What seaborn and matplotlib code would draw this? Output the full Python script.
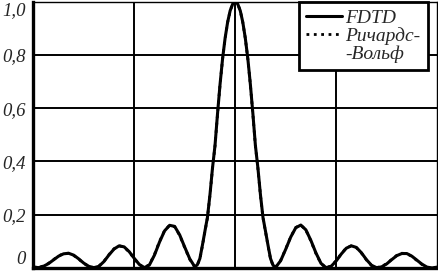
import numpy as np
import pandas as pd
import matplotlib
matplotlib.use('Agg')
import matplotlib.pyplot as plt
import seaborn as sns

# Sample positions (arbitrary units, focus at 0)
x_pos = [-2.0, -1.95, -1.9, -1.85, -1.8, -1.75, -1.7, -1.65, -1.6, -1.55,
         -1.5, -1.45, -1.4, -1.35, -1.3, -1.25, -1.2, -1.15, -1.1, -1.05,
         -1.0, -0.95, -0.9, -0.85, -0.8, -0.75, -0.7, -0.65, -0.6, -0.55,
         -0.5, -0.45, -0.4, -0.375, -0.35, -0.325, -0.3, -0.275, -0.25, -0.225,
         -0.2, -0.175, -0.15, -0.125, -0.1, -0.075, -0.05, -0.025, 0.0,
         0.025, 0.05, 0.075, 0.1, 0.125, 0.15, 0.175, 0.2, 0.225, 0.25,
         0.275, 0.3, 0.325, 0.35, 0.375, 0.4, 0.45, 0.5, 0.55, 0.6,
         0.65, 0.7, 0.75, 0.8, 0.85, 0.9, 0.95, 1.0, 1.05, 1.1,
         1.15, 1.2, 1.25, 1.3, 1.35, 1.4, 1.45, 1.5, 1.55, 1.6,
         1.65, 1.7, 1.75, 1.8, 1.85, 1.9, 1.95, 2.0]

# FDTD intensity
y_fdtd = [0.004, 0.001, 0.006, 0.016, 0.030, 0.044, 0.053, 0.055, 0.048, 0.034,
          0.018, 0.006, 0.001, 0.006, 0.024, 0.049, 0.071, 0.083, 0.079, 0.061,
          0.036, 0.013, 0.001, 0.011, 0.048, 0.097, 0.139, 0.160, 0.156, 0.124,
          0.078, 0.034, 0.004, 0.012, 0.035, 0.085, 0.138, 0.190, 0.275, 0.375,
          0.460, 0.580, 0.690, 0.786, 0.863, 0.923, 0.966, 0.991, 1.000,
          0.991, 0.966, 0.923, 0.863, 0.786, 0.690, 0.580, 0.460, 0.375, 0.275,
          0.190, 0.138, 0.085, 0.035, 0.010, 0.002, 0.027, 0.070, 0.116, 0.151,
          0.161, 0.143, 0.103, 0.056, 0.017, 0.001, 0.006, 0.026, 0.052, 0.074,
          0.083, 0.077, 0.057, 0.031, 0.010, 0.001, 0.004, 0.015, 0.031, 0.046,
          0.054, 0.054, 0.044, 0.029, 0.014, 0.003, 0.000, 0.003]

# Richards-Wolf intensity
y_rw = [0.002, 0.002, 0.007, 0.017, 0.031, 0.045, 0.054, 0.055, 0.047, 0.033,
        0.017, 0.005, 0.001, 0.007, 0.025, 0.050, 0.072, 0.083, 0.078, 0.060,
        0.035, 0.012, 0.001, 0.012, 0.050, 0.099, 0.140, 0.160, 0.155, 0.122,
        0.076, 0.032, 0.003, 0.011, 0.033, 0.083, 0.136, 0.188, 0.273, 0.373,
        0.458, 0.578, 0.689, 0.785, 0.862, 0.922, 0.966, 0.991, 1.000,
        0.991, 0.966, 0.922, 0.862, 0.785, 0.689, 0.578, 0.458, 0.373, 0.273,
        0.188, 0.136, 0.083, 0.033, 0.009, 0.002, 0.028, 0.071, 0.117, 0.152,
        0.161, 0.142, 0.101, 0.054, 0.016, 0.001, 0.007, 0.027, 0.053, 0.075,
        0.083, 0.076, 0.056, 0.030, 0.009, 0.001, 0.005, 0.016, 0.032, 0.047,
        0.055, 0.054, 0.043, 0.028, 0.013, 0.002, 0.001, 0.002]

series_names = ['FDTD', 'Ричардс-Вольф']
legend_lines = ['FDTD', 'Ричардс-', '-Вольф']
y_ticks = [0, 0.2, 0.4, 0.6, 0.8, 1.0]
y_tick_labels = ['0', '0,2', '0,4', '0,6', '0,8', '1,0']
x_grid = [-1, 0, 1]

df = pd.concat([
    pd.DataFrame({'x': x_pos, 'y': y_fdtd, 'series': series_names[0]}),
    pd.DataFrame({'x': x_pos, 'y': y_rw, 'series': series_names[1]}),
])

sns.set_style('white')
plt.rcParams['font.family'] = ['Liberation Serif', 'DejaVu Serif']

fig = plt.figure(figsize=(4.38, 2.72), dpi=100)
ax = fig.add_axes([0.076, 0.015, 0.922, 0.979])

sns.lineplot(data=df, x='x', y='y', hue='series', style='series',
             palette=['black', 'black'], dashes=[(None, None), (1, 1)],
             linewidth=2.2, ax=ax, legend=False)
ax.lines[1].set_linestyle(':')
ax.lines[1].set_linewidth(2.0)

ax.set_xlim(-2, 2)
ax.set_ylim(0, 1.0)
ax.set_xticks(x_grid)
ax.set_xticklabels([])
ax.set_yticks(y_ticks)
ax.set_yticklabels(y_tick_labels, fontsize=13.5, style='italic')
ax.tick_params(axis='both', length=0, pad=5.5)
labels = ax.get_yticklabels()
labels[0].set_va('bottom')
labels[-1].set_va('top')
ax.set_xlabel('')
ax.set_ylabel('')

ax.grid(True, color='black', linewidth=1.4)
ax.set_axisbelow(True)
for side in ['left', 'bottom']:
    ax.spines[side].set_linewidth(2.4)
for side in ['top', 'right']:
    ax.spines[side].set_linewidth(1.0)
for sp in ax.spines.values():
    sp.set_color('black')

# second label split over two rows, handle next to the first one
handles = [plt.Line2D([], [], color='black', lw=2.2, ls='-'),
           plt.Line2D([], [], color='black', lw=2.0, ls=':'),
           plt.Line2D([], [], color='none', lw=0)]
leg = ax.legend(handles, legend_lines, loc='upper right',
                bbox_to_anchor=(0.978, 1.0),
                prop={'family': 'Liberation Serif', 'style': 'italic', 'size': 14},
                frameon=True, fancybox=False, framealpha=1, edgecolor='black',
                borderaxespad=0.0, handlelength=1.85, handletextpad=0.15,
                labelspacing=0.0, borderpad=0.4)
leg.get_frame().set_linewidth(2.0)

fig.savefig('out.png', dpi=100)
